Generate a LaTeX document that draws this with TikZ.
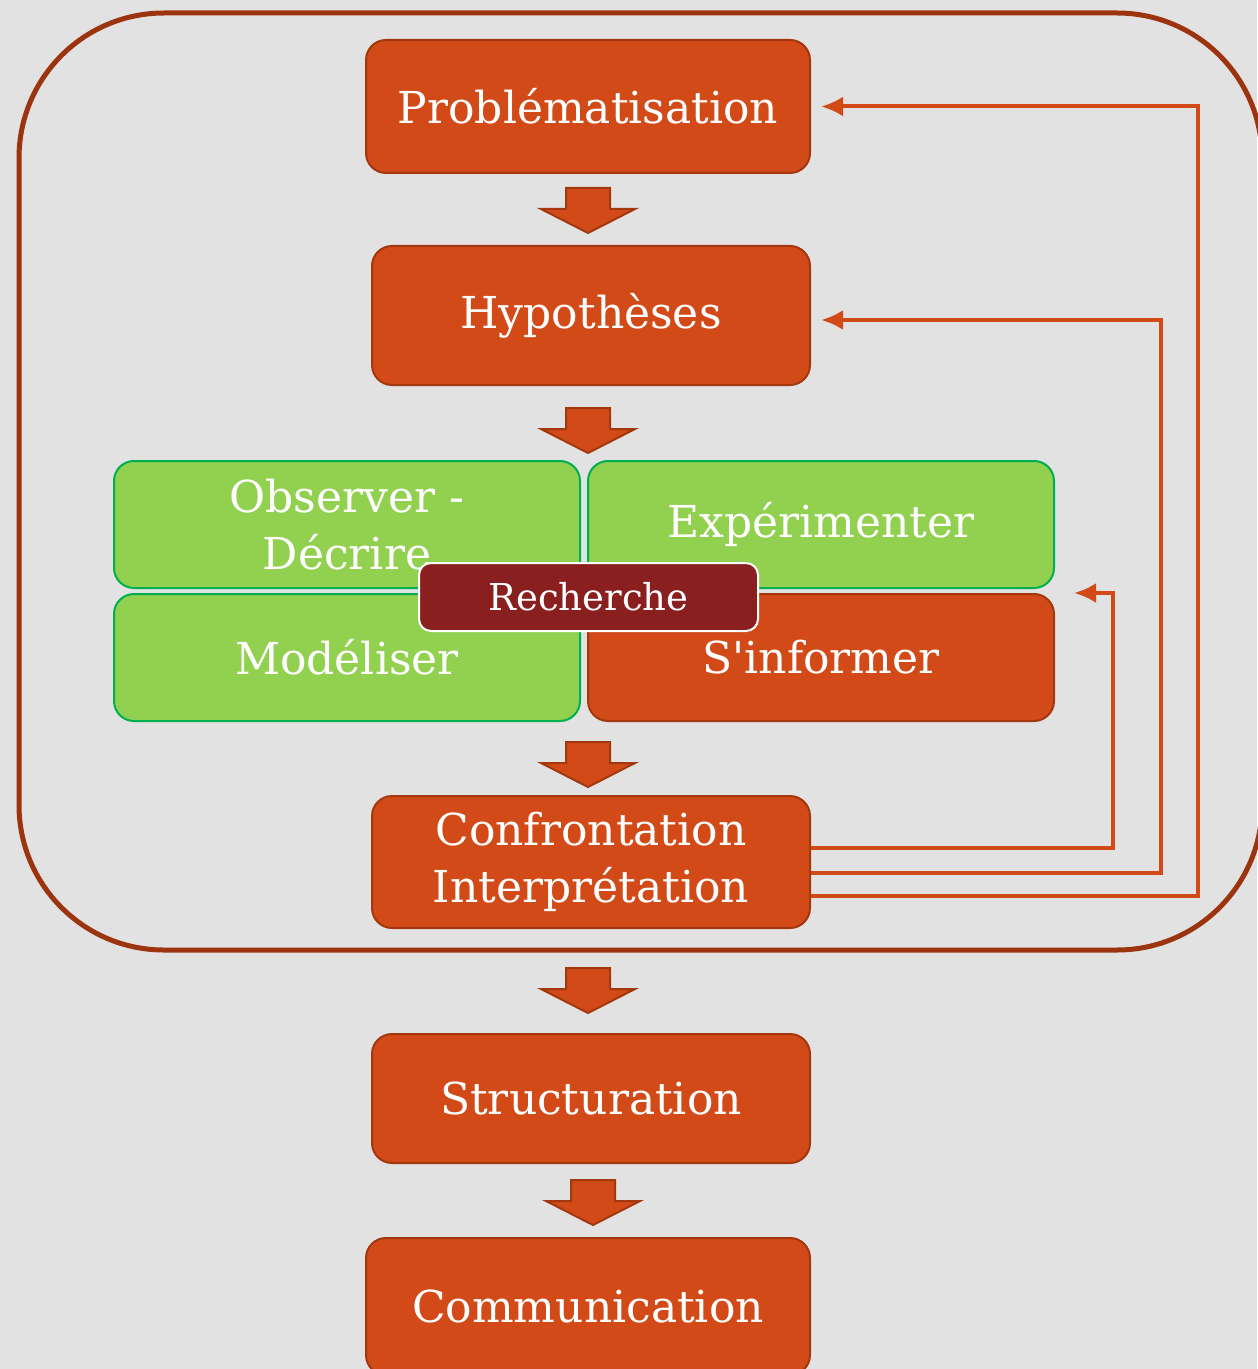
\documentclass[tikz,border=0pt]{standalone}
\usepackage{fontspec}
\setmainfont{DejaVu Serif}
\usetikzlibrary{arrows.meta}

\definecolor{fond}{HTML}{E2E2E2}
\definecolor{rouille}{HTML}{D14A18}
\definecolor{rouillebord}{HTML}{A3380F}
\definecolor{cadre}{HTML}{9C3410}
\definecolor{vert}{HTML}{92D050}
\definecolor{vertbord}{HTML}{00B050}
\definecolor{bordeaux}{HTML}{8A1F20}

\tikzset{
  etape/.style={draw=rouillebord,fill=rouille,line width=1pt,rounded corners=10pt,
    text=white,align=center,font=\fontsize{22}{28.5}\selectfont,inner sep=0pt},
  activite/.style={etape,draw=vertbord,fill=vert,minimum width=233pt,minimum height=63.5pt},
  recherche/.style={draw=white,fill=bordeaux,line width=1pt,rounded corners=6pt,
    text=white,font=\fontsize{18.5}{21}\selectfont,minimum width=169.5pt,minimum height=34pt},
  bloc/.style={draw=rouillebord,fill=rouille,line width=1pt},
  retour/.style={draw=rouille,line width=2pt,-{Latex[length=11pt,width=10pt]}}
}

\begin{document}
\begin{tikzpicture}[x=0.5pt,y=-0.5pt]
\fill[fond] (0,0) rectangle (1257,1369);
\useasboundingbox (0,0) rectangle (1257,1369);
\draw[cadre,line width=2.5pt,rounded corners=72.5pt] (19,13) rectangle (1262,950);

\node[etape,minimum width=222pt,minimum height=66.5pt] (prob)at(588,106.5){Problématisation};
\node[etape,minimum width=219pt,minimum height=69.5pt] (hyp)at(591,315.5){Hypothèses};
\node[activite] (obs)at(347,524.5){Observer -\\Décrire};
\node[activite] (exp)at(821,524.5){Expérimenter};
\node[activite] (mod)at(347,657.5){Modéliser};
\node[activite,draw=rouillebord,fill=rouille] (sinf)at(821,657.5){S\textquotesingle informer};
\node[recherche] (rech)at(588.5,597){Recherche};
\node[etape,minimum width=219pt,minimum height=66pt] (conf)at(591,862){Confrontation\\Interprétation};
\node[etape,minimum width=219pt,minimum height=64.5pt] (struc)at(591,1098.5){Structuration};
\node[etape,minimum width=222pt,minimum height=68.5pt] (comm)at(588,1306.5){Communication};

% fleches pleines entre les etapes
\foreach \x/\y in {588/188,588/408,588/742,588/968,593/1180}
  \draw[bloc] (\x-22,\y) -- (\x+22,\y) -- (\x+22,\y+21) -- (\x+47,\y+21)
    -- (\x,\y+45) -- (\x-47,\y+21) -- (\x-22,\y+21) -- cycle;

% retours
\draw[retour] ([yshift=7pt]conf.east) -| ([xshift=29pt]sinf.north east) -- ([xshift=9.5pt]sinf.north east);
\draw[retour] ([yshift=-5.5pt]conf.east) -| ([xshift=175pt,yshift=-2.25pt]hyp.east) -- ([xshift=5pt,yshift=-2.25pt]hyp.east);
\draw[retour] ([yshift=-17pt]conf.east) -| ([xshift=193.5pt]prob.east) -- ([xshift=5pt]prob.east);
\end{tikzpicture}
\end{document}
